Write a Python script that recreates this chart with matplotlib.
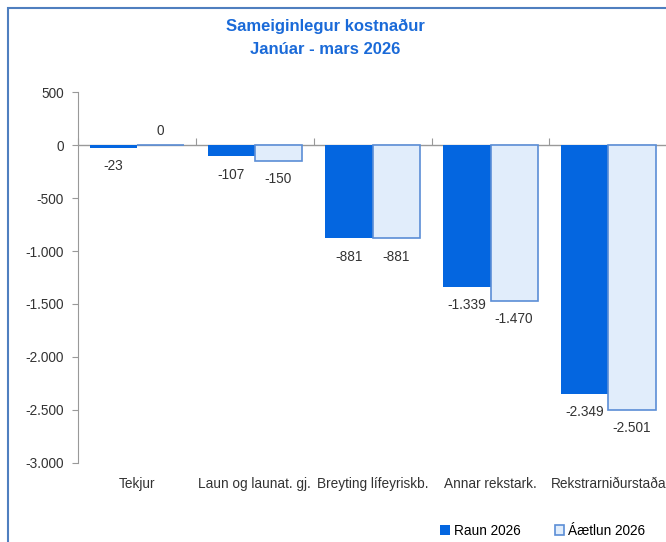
import matplotlib.pyplot as plt
import matplotlib.patches as mpatches
from matplotlib.ticker import FuncFormatter
import numpy as np

categories = ['Tekjur', 'Laun og launat. gj.', 'Breyting lífeyriskb.',
              'Annar rekstark.', 'Rekstrarniðurstaða']
raun = [-23, -107, -881, -1339, -2349]
aaetlun = [0, -150, -881, -1470, -2501]
series_names = ['Raun 2026', 'Áætlun 2026']

plt.rcParams['font.family'] = ['Liberation Sans', 'DejaVu Sans']

def isl(v, pos=None):
    # icelandic thousands separator
    s = f'{abs(int(round(v))):,}'.replace(',', '.')
    return ('-' if v < 0 else '') + s

fig = plt.figure(figsize=(6.66, 5.42), dpi=100)
ax = fig.add_axes([0.117, 0.146, 0.885, 0.684])

x = np.arange(len(categories))
w = 0.4
dark = '#0466E0'
light = '#E1EDFB'
edge = '#5B8ED6'
txt = '#333333'
fs = 9.8

b1 = ax.bar(x - w / 2, raun, w, color=dark, label=series_names[0], zorder=2)
b2 = ax.bar(x + w / 2, aaetlun, w, color=light, edgecolor=edge, linewidth=1.2,
            label=series_names[1], zorder=2)

for bars, vals in [(b1, raun), (b2, aaetlun)]:
    for r, v in zip(bars, vals):
        cx = r.get_x() + r.get_width() / 2
        if v < 0:
            ax.annotate(isl(v), (cx, v), xytext=(0, -8), textcoords='offset points',
                        ha='center', va='top', fontsize=fs, color=txt)
        else:
            ax.annotate(isl(v), (cx, v), xytext=(0, 5), textcoords='offset points',
                        ha='center', va='bottom', fontsize=fs, color=txt)

ax.set_ylim(-3000, 500)
ax.set_xlim(-0.5, len(categories) - 0.5)
ax.set_yticks(np.arange(-3000, 501, 500))
ax.yaxis.set_major_formatter(FuncFormatter(isl))
ax.tick_params(axis='y', labelsize=fs, colors=txt, length=4, color='#999999', pad=6)
for lab in ax.get_yticklabels():
    lab.set_color(txt)

ax.set_xticks(x)
ax.set_xticklabels(categories, fontsize=fs, color=txt)
ax.tick_params(axis='x', length=0, pad=10)

for s in ['top', 'right', 'bottom']:
    ax.spines[s].set_visible(False)
ax.spines['left'].set_color('#999999')

# category axis crosses at zero
ax.axhline(0, color='#999999', linewidth=1, zorder=1)
sec = ax.secondary_xaxis(3000 / 3500)
sec.set_xticks(np.arange(len(categories) + 1) - 0.5)
sec.set_xticklabels([])
sec.tick_params(length=5, color='#999999', direction='out')
sec.spines['bottom'].set_visible(False)
sec.spines['top'].set_visible(False)

fig.text(0.488, 0.951, 'Sameiginlegur kostnaður', ha='center', va='center',
         fontsize=12, fontweight='bold', color='#1A6AD8')
fig.text(0.488, 0.909, 'Janúar - mars 2026', ha='center', va='center',
         fontsize=12, fontweight='bold', color='#1A6AD8')

fig.legend(handles=[b1, b2], loc='center', bbox_to_anchor=(0.815, 0.021),
           ncol=2, frameon=False, fontsize=fs, handlelength=0.7, handleheight=0.7,
           columnspacing=2.5, handletextpad=0.3)

frame = mpatches.Rectangle((8 / 666, -0.05), 1.1, 1.05 - 8 / 542, transform=fig.transFigure,
                           fill=False, edgecolor='#4F7FBF', linewidth=1.5)
fig.patches.append(frame)

fig.savefig('out.png', dpi=100)
